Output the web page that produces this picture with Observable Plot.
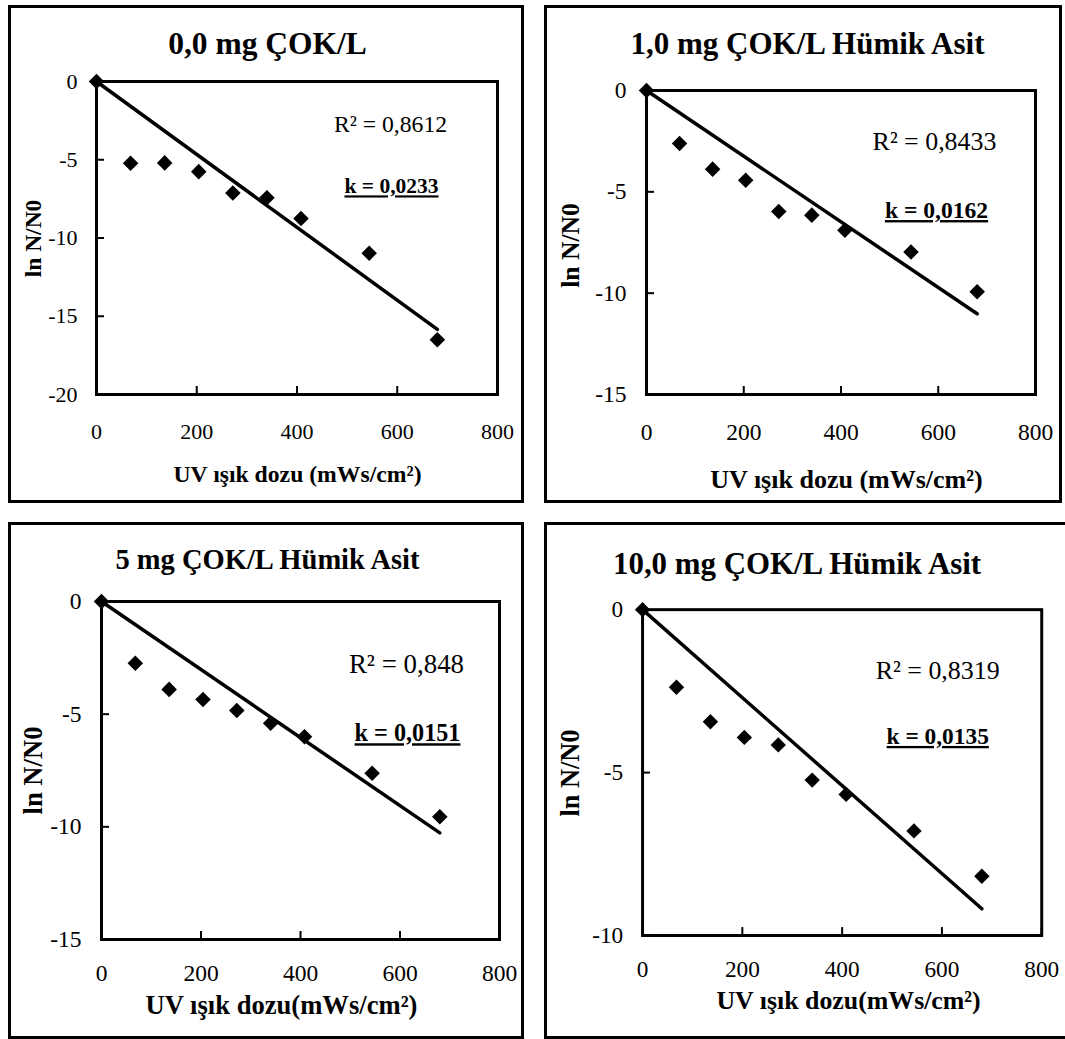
<!DOCTYPE html>
<html><head><meta charset="utf-8">
<script src="https://cdn.jsdelivr.net/npm/d3@7"></script>
<script src="https://cdn.jsdelivr.net/npm/@observablehq/plot@0.6"></script>
<style>
html,body{margin:0;padding:0;background:#fff;}
#root{position:relative;width:1065px;height:1039px;overflow:hidden;font-family:"Liberation Serif","Times New Roman",serif;}
.box{position:absolute;box-sizing:border-box;border:3px solid #000;}
.chart{position:absolute;}
.chart svg{overflow:visible;}
</style></head><body><div id="root"></div>
<script>
// ---- data ----
const dose = [0, 68, 136, 204, 272, 340, 408, 544, 680];
const titles = ["0,0 mg ÇOK/L", "1,0 mg ÇOK/L Hümik Asit", "5 mg ÇOK/L Hümik Asit", "10,0 mg ÇOK/L Hümik Asit"];
const lnN_0  = [0, -5.23, -5.2, -5.76, -7.13, -7.43, -8.76, -10.97, -16.5];
const lnN_1  = [0, -2.62, -3.88, -4.43, -5.97, -6.15, -6.9, -7.97, -9.93];
const lnN_5  = [0, -2.74, -3.9, -4.35, -4.84, -5.4, -6.0, -7.62, -9.55];
const lnN_10 = [0, -2.38, -3.44, -3.92, -4.15, -5.23, -5.67, -6.79, -8.18];
const kValues = [0.0233, 0.0162, 0.0151, 0.0135];
const kLabels = ["0,0233", "0,0162", "0,0151", "0,0135"];
const r2Labels = ["0,8612", "0,8433", "0,848", "0,8319"];
const xTicks = [0, 200, 400, 600, 800];
const yTicks0 = [0, -5, -10, -15, -20];
const yTicks1 = [0, -5, -10, -15];
const yTicks5 = [0, -5, -10, -15];
const yTicks10 = [0, -5, -10];
const xTitles = ["UV ışık dozu (mWs/cm²)", "UV ışık dozu (mWs/cm²)", "UV ışık dozu(mWs/cm²)", "UV ışık dozu(mWs/cm²)"];
const yTitle = "ln N/N0";

const series = [lnN_0, lnN_1, lnN_5, lnN_10];
const yTickSets = [yTicks0, yTicks1, yTicks5, yTicks10];

// ---- layout (absolute page px) ----
const layout = [
  {box:[8,5,524,503], plot:[96,81,497,394], tickFont:22, xOff:37, yPad:19,
   title:[267,43,31.5], yT:[33,238,23.5], xT:[297,474,23.7], r2:[390,124,23.7], k:[391,186,21.5]},
  {box:[544,5,1062,503], plot:[646,90,1035,394], tickFont:23.5, xOff:38, yPad:20,
   title:[807,44,31], yT:[570,245,25.6], xT:[846,479,26], r2:[934,141,25.9], k:[936,210,23.6]},
  {box:[8,522,524,1039], plot:[101,601,499,939], tickFont:23.5, xOff:34, yPad:20,
   title:[267,559,28.5], yT:[33,770,26.6], xT:[281,1005,26.6], r2:[406,664,26.9], k:[407,733,24.2]},
  {box:[544,522,1070,1039], plot:[643,610,1046,939], tickFont:23.5, xOff:34, yPad:19.5,
   title:[799,564,31.2], yT:[570,775,26.6], xT:[851,1005,26.1], r2:[941,672,26.2], k:[941,738,23.6]}
];

const root = document.getElementById("root");
const FONT = "Liberation Serif";

layout.forEach((L, i) => {
  const [bx1, by1, bx2, by2] = L.box;
  const [px1, py1, px2, py2] = L.plot;
  const W = bx2 - bx1, H = by2 - by1;
  const pw = px2 - px1, ph = py2 - py1;
  const yt = yTickSets[i];
  const vals = series[i];
  const pts = dose.map((d, j) => ({x: d, y: vals[j]}));
  const k = kValues[i];
  const fit = [d3.min(dose), d3.max(dose)].map(x => ({x, y: -k * x}));
  const rel = (p) => ({dx: p[0] - px1, dy: p[1] - py1});
  const txt = (s, p, extra) => Plot.text([s], Object.assign({
    text: d => d, frameAnchor: "top-left", ...rel(p), fontSize: p[2],
    textAnchor: "middle", lineAnchor: "middle", fill: "#000", fontFamily: FONT
  }, extra || {}));

  const svg = Plot.plot({
    width: W, height: H,
    marginLeft: px1 - bx1, marginTop: py1 - by1, marginRight: bx2 - px2, marginBottom: by2 - py2,
    style: {fontFamily: FONT, color: "#000", background: "transparent"},
    x: {domain: [0, 800], axis: null},
    y: {domain: [d3.min(yt), 0], axis: null},
    marks: [
      Plot.ruleY(yt, {y: d => d, insetRight: pw - 8, stroke: "#000", strokeWidth: 2}),
      Plot.ruleX(xTicks, {x: d => d, insetTop: ph - 8, stroke: "#000", strokeWidth: 2}),
      Plot.frame({stroke: "#000", strokeWidth: 3}),
      Plot.text(xTicks, {x: d => d, frameAnchor: "bottom", dy: L.xOff, text: d => String(d),
        textAnchor: "middle", lineAnchor: "middle", fontSize: L.tickFont, fontFamily: FONT, fill: "#000"}),
      Plot.text(yt, {y: d => d, frameAnchor: "left", dx: -L.yPad, text: d => String(d),
        textAnchor: "end", lineAnchor: "middle", fontSize: L.tickFont, fontFamily: FONT, fill: "#000"}),
      Plot.line(fit, {x: "x", y: "y", stroke: "#000", strokeWidth: 3.5}),
      Plot.dot(pts, {x: "x", y: "y", symbol: "diamond2", r: 7, fill: "#000", stroke: "none"}),
      txt(titles[i], L.title, {fontWeight: "bold"}),
      txt(yTitle, L.yT, {fontWeight: "bold", rotate: -90}),
      txt(xTitles[i], L.xT, {fontWeight: "bold"}),
      txt("R² = " + r2Labels[i], L.r2),
      txt("k = " + kLabels[i], L.k, {fontWeight: "bold"})
    ]
  });
  d3.select(svg).selectAll("text")
    .filter(function () { return this.textContent.startsWith("k = "); })
    .style("text-decoration", "underline");

  const wrap = document.createElement("div");
  wrap.className = "chart";
  wrap.style.left = bx1 + "px"; wrap.style.top = by1 + "px";
  wrap.appendChild(svg);
  root.appendChild(wrap);

  const box = document.createElement("div");
  box.className = "box";
  box.style.left = bx1 + "px"; box.style.top = by1 + "px";
  box.style.width = W + "px"; box.style.height = H + "px";
  root.appendChild(box);
});
</script></body></html>
